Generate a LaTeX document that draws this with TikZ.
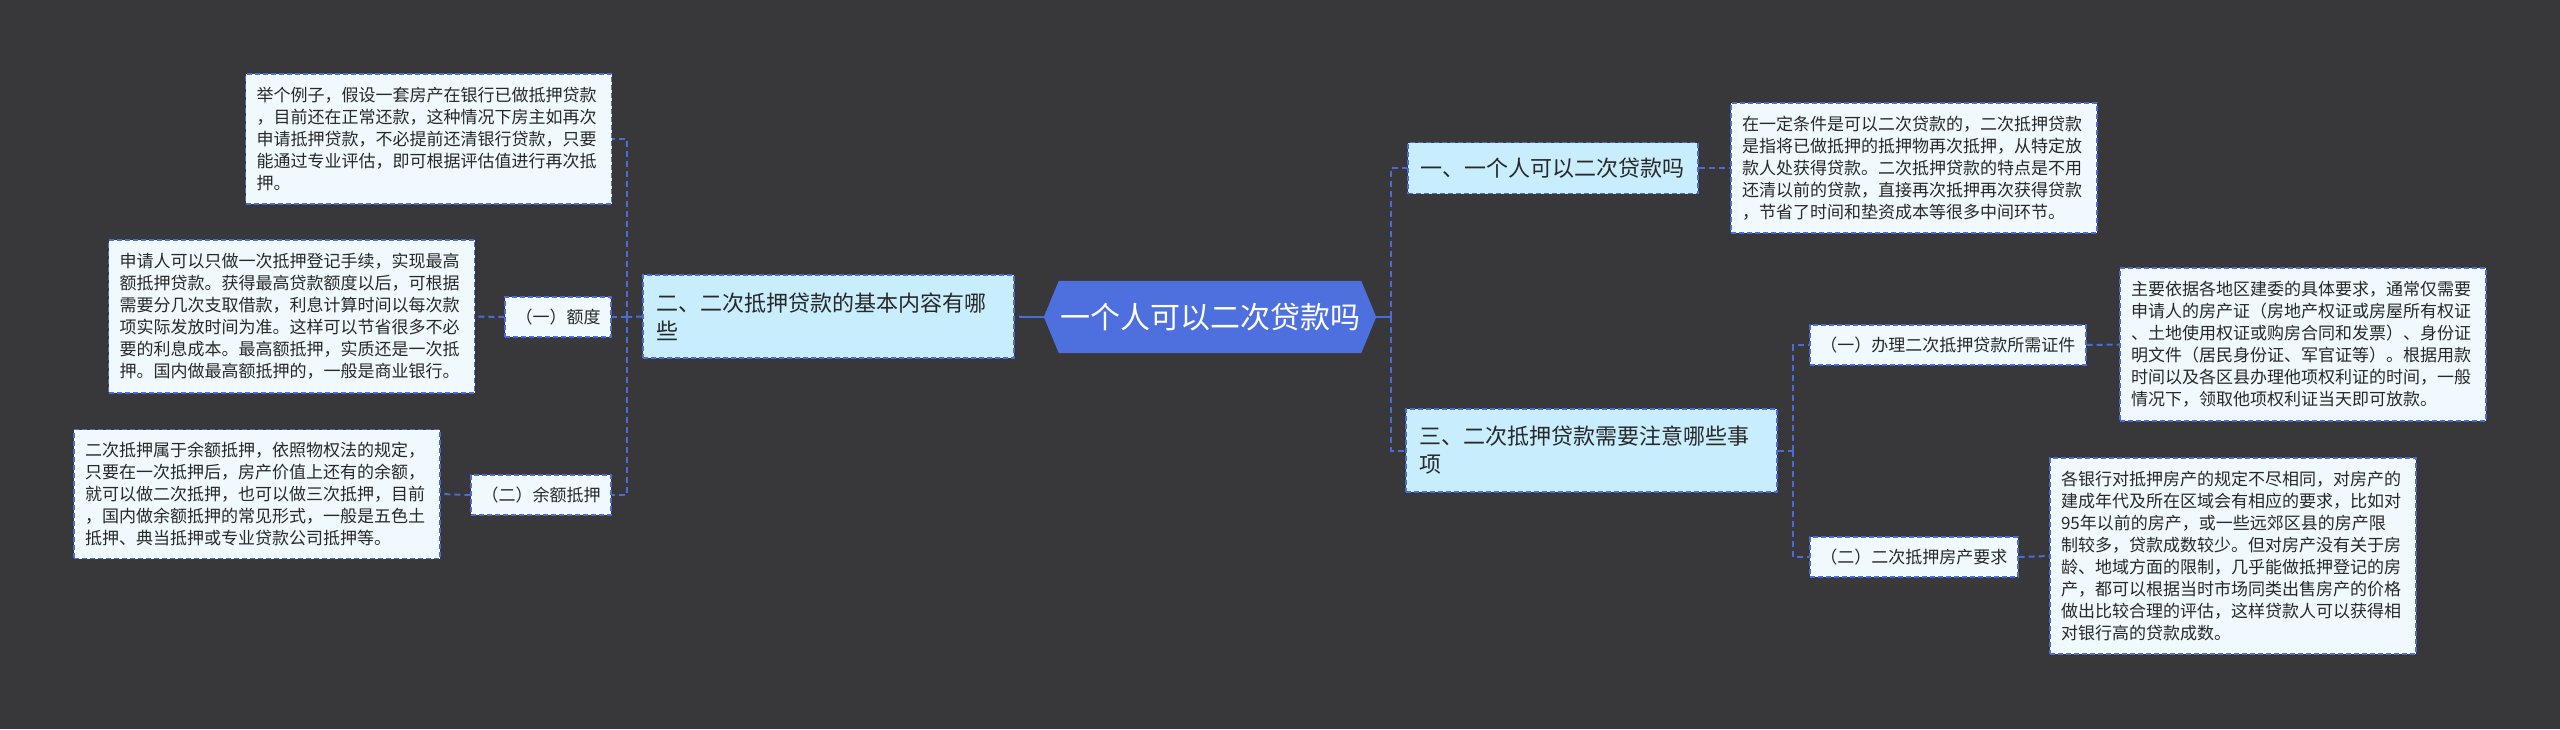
\documentclass[tikz,border=0pt]{standalone}
\usepackage{fontspec}
\newfontfamily\cjk{Noto Sans CJK SC}
\usetikzlibrary{backgrounds}
\definecolor{bg}{RGB}{56,55,58}
\definecolor{rootblue}{RGB}{78,112,222}
\definecolor{linkblue}{RGB}{74,108,212}
\definecolor{lvlone}{RGB}{200,237,252}
\definecolor{lvltwo}{RGB}{240,250,254}
\definecolor{txt}{RGB}{40,40,40}
\begin{document}
\begin{tikzpicture}[x=1pt,y=-1pt,
 boxdash/.style={draw=linkblue, line width=1.6pt, dash pattern=on 5pt off 3pt},
 rootnode/.style={minimum width=332pt, minimum height=72pt, inner sep=0pt, text=white, font=\cjk\fontsize{30}{36}\selectfont},
 branch/.style={boxdash, fill=lvlone, text=txt, font=\cjk\fontsize{22}{28}\selectfont, inner xsep=13pt, inner ysep=0pt, align=left},
 sub/.style={boxdash, fill=lvltwo, text=txt, font=\cjk\fontsize{17}{22}\selectfont, inner xsep=10.5pt, inner ysep=0pt, minimum height=40pt},
 leaf/.style={boxdash, fill=lvltwo, text=txt, font=\cjk\fontsize{17}{22}\selectfont, inner xsep=11pt, inner ysep=0pt, text width=344pt, align=left},
 conn/.style={draw=linkblue, line width=2pt, dash pattern=on 6pt off 4pt},
 trunk/.style={draw=linkblue, line width=2.5pt}
]
\useasboundingbox (0,0) rectangle (2560,729);

% root
\node[rootnode] (root) at (1210,317) {一个人可以二次贷款吗};
\begin{scope}[on background layer]
\fill[bg] (0,0) rectangle (2560,729);
\fill[rootblue] (root.west) -- ([xshift=15pt]root.north west) -- ([xshift=-15pt]root.north east) -- (root.east) -- ([xshift=-15pt]root.south east) -- ([xshift=15pt]root.south west) -- cycle;
\end{scope}

% level one
\node[branch, anchor=west, minimum height=51pt] (b1) at (1407,168) {一、一个人可以二次贷款吗};
\node[branch, text width=345pt, minimum height=83pt] (b2) at (828.5,316.5) {二、二次抵押贷款的基本内容有哪\\些};
\node[branch, text width=345pt, minimum height=83pt] (b3) at (1591.5,450.5) {三、二次抵押贷款需要注意哪些事\\项};

% level two
\node[sub, anchor=east] (ed) at (612,317) {（一）额度};
\node[sub, anchor=east] (yu) at (612,495) {（二）余额抵押};
\node[sub, anchor=west] (bl) at (1809,345) {（一）办理二次抵押贷款所需证件};
\node[sub, anchor=west] (fc) at (1809,557) {（二）二次抵押房产要求};

% leaves
\node[leaf, minimum height=130pt] (ex) at (428.5,139) {举个例子，假设一套房产在银行已做抵押贷款\\，目前还在正常还款，这种情况下房主如再次\\申请抵押贷款，不必提前还清银行贷款，只要\\能通过专业评估，即可根据评估值进行再次抵\\押。};
\node[leaf, minimum height=153pt] (sq) at (291.5,316.5) {申请人可以只做一次抵押登记手续，实现最高\\额抵押贷款。获得最高贷款额度以后，可根据\\需要分几次支取借款，利息计算时间以每次款\\项实际发放时间为准。这样可以节省很多不必\\要的利息成本。最高额抵押，实质还是一次抵\\押。国内做最高额抵押的，一般是商业银行。};
\node[leaf, minimum height=129pt] (ye) at (257,494) {二次抵押属于余额抵押，依照物权法的规定，\\只要在一次抵押后，房产价值上还有的余额，\\就可以做二次抵押，也可以做三次抵押，目前\\，国内做余额抵押的常见形式，一般是五色土\\抵押、典当抵押或专业贷款公司抵押等。};
\node[leaf, minimum height=130pt] (d1) at (1914,168) {在一定条件是可以二次贷款的，二次抵押贷款\\是指将已做抵押的抵押物再次抵押，从特定放\\款人处获得贷款。二次抵押贷款的特点是不用\\还清以前的贷款，直接再次抵押再次获得贷款\\，节省了时间和垫资成本等很多中间环节。};
\node[leaf, minimum height=153pt] (z1) at (2303,344.5) {主要依据各地区建委的具体要求，通常仅需要\\申请人的房产证（房地产权证或房屋所有权证\\、土地使用权证或购房合同和发票）、身份证\\明文件（居民身份证、军官证等）。根据用款\\时间以及各区县办理他项权利证的时间，一般\\情况下，领取他项权利证当天即可放款。};
\node[leaf, minimum height=196pt] (g1) at (2233,556) {各银行对抵押房产的规定不尽相同，对房产的\\建成年代及所在区域会有相应的要求，比如对\\95年以前的房产，或一些远郊区县的房产限\\制较多，贷款成数较少。但对房产没有关于房\\龄、地域方面的限制，几乎能做抵押登记的房\\产，都可以根据当时市场同类出售房产的价格\\做出比较合理的评估，这样贷款人可以获得相\\对银行高的贷款成数。};

% connectors: root
\coordinate (rs) at (1391,317);
\coordinate (rl) at (1025,317);
\draw[trunk] (root.east) -- (rs);
\draw[trunk] (root.west) -- (rl);
\draw[conn] (rl) -- (b2.east);
\draw[conn] (rs) |- (b1.west);
\draw[conn] (rs) |- (b3.west);

% left side
\coordinate (ls) at (627,317);
\draw[conn] (b2.west) -- (ls);
\draw[conn] (ls) |- (ex.east);
\draw[conn] (ls) -- (ed.east);
\draw[conn] (ls) |- (yu.east);
\draw[conn] (ed.west) -- (sq.east);
\draw[conn] (yu.west) -- (ye.east);

% right side
\draw[conn] (b1.east) -- (d1.west);
\coordinate (ts) at (1793,450.5);
\draw[conn] (b3.east) -- (ts);
\draw[conn] (ts) |- (bl.west);
\draw[conn] (ts) |- (fc.west);
\draw[conn] (bl.east) -- (z1.west);
\draw[conn] (fc.east) -- (g1.west);
\end{tikzpicture}
\end{document}
